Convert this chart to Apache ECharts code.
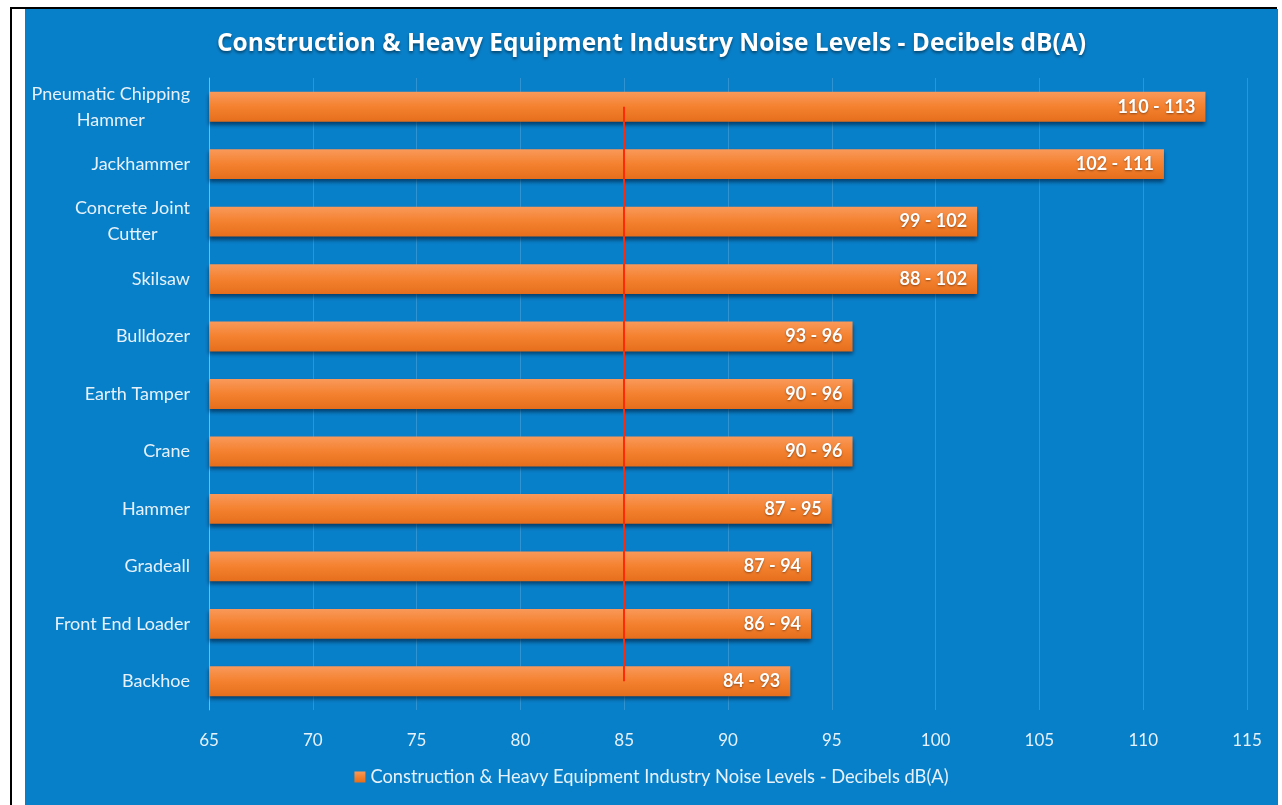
<!DOCTYPE html>
<html><head><meta charset="utf-8">
<script src="https://cdn.jsdelivr.net/npm/echarts@6/dist/echarts.min.js"></script>
<style>
html,body{margin:0;padding:0;background:#fff;width:1282px;height:805px;overflow:hidden;}
#frame{position:absolute;left:10px;top:7px;width:1267px;height:798px;border-left:2px solid #000;border-top:2px solid #000;box-sizing:border-box;}
#chart{position:absolute;left:25px;top:9px;width:1253px;height:796px;}
</style></head>
<body>
<div id="frame"></div>
<div id="chart"></div>
<script>
const categories = ['Pneumatic Chipping\nHammer','Jackhammer','Concrete Joint\nCutter','Skilsaw','Bulldozer','Earth Tamper','Crane','Hammer','Gradeall','Front End Loader','Backhoe'];
const lowValues  = [110,102,99,88,93,90,90,87,87,86,84];
const highValues = [113,111,102,102,96,96,96,95,94,94,93];
const xTicks = {min:65,max:115,interval:5};
const limitValue = 85;
const titleText = 'Construction & Heavy Equipment Industry Noise Levels - Decibels dB(A)';

const chart = echarts.init(document.getElementById('chart'));
chart.setOption({
  color:['#f4812f'],
  backgroundColor:'#0880c9',
  animation:false,
  title:{text:titleText,left:'center',top:18,textStyle:{color:'#fff',fontFamily:'Open Sans',fontWeight:'bold',fontSize:24.5,textShadowColor:'rgba(0,0,0,0.45)',textShadowBlur:3,textShadowOffsetY:2}},
  legend:{bottom:14,left:'center',itemWidth:11,itemHeight:11,icon:'rect',textStyle:{color:'#e6f1fa',fontFamily:'Lato',fontSize:18.3},data:[titleText]},
  grid:{left:184,right:31,top:69,bottom:95,containLabel:false},
  xAxis:{type:'value',min:xTicks.min,max:xTicks.max,interval:xTicks.interval,
    axisLine:{show:false},axisTick:{show:false},
    axisLabel:{color:'#e6f1fa',fontFamily:'Lato',fontSize:17,margin:22},
    splitLine:{lineStyle:{color:'rgba(255,255,255,0.16)',width:1}}},
  yAxis:{type:'category',data:categories,inverse:true,
    axisLine:{show:true,lineStyle:{color:'rgba(255,255,255,0.35)'}},axisTick:{show:false},
    axisLabel:{color:'#e6f1fa',fontFamily:'Lato',fontSize:18,margin:19,lineHeight:26,
      formatter:function(v){ return '{c|'+v+'}'; },
      rich:{c:{fontFamily:'Lato',fontSize:18,color:'#e6f1fa',lineHeight:26,align:'center'}}}},
  series:[{
    name:titleText,type:'bar',data:highValues,barWidth:'52%',
    itemStyle:{color:new echarts.graphic.LinearGradient(0,0,0,1,[{offset:0,color:'#f9995a'},{offset:0.5,color:'#f4812f'},{offset:1,color:'#e56e1c'}]),
      shadowColor:'rgba(0,20,50,0.6)',shadowBlur:4,shadowOffsetY:3},
    label:{show:true,position:'insideRight',distance:10,color:'#fff',fontFamily:'Lato',fontWeight:'bold',fontSize:18,
      textShadowColor:'rgba(0,0,0,0.4)',textShadowBlur:2,textShadowOffsetY:1,
      formatter:function(p){return lowValues[p.dataIndex]+' - '+highValues[p.dataIndex];}},
    markLine:{silent:true,symbol:'none',label:{show:false},lineStyle:{color:'#ff2a0a',width:2,type:'solid'},
      data:[[{coord:[limitValue,categories[0]]},{coord:[limitValue,categories[categories.length-1]]}]]}
  }]
});
</script>
</body></html>
